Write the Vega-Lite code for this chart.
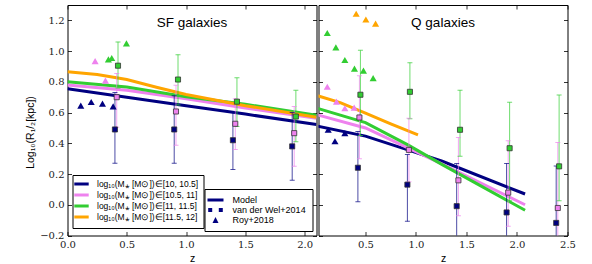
{
"$schema":"https://vega.github.io/schema/vega-lite/v6.json",
"padding":{"left":24.5,"top":4,"right":20,"bottom":0},
"spacing":0,
"config":{
 "view":{"stroke":"#000000","strokeWidth":1},
 "font":"Liberation Sans",
 "axis":{"domain":false,"grid":false,"ticks":true,"tickColor":"#000","tickSize":-4,"tickWidth":0.8,"labelFont":"DejaVu Serif","labelFontSize":10,"labelColor":"#222","labelPadding":7.5,"labelFlush":false,"labelOverlap":false,"titleFont":"Liberation Sans","titleFontSize":10.5,"titleFontWeight":"normal","titleColor":"#000"},
 "title":{"font":"Liberation Sans","fontSize":13.5,"fontWeight":"normal","color":"#000","offset":-25,"baseline":"alphabetic","anchor":"middle"},
 "legend":{"labelFont":"Liberation Sans","labelFontSize":9,"labelColor":"#000"}
},
"datasets":{"d":[
{"panel":"SF","kind":"model","src":"Model","mass":"[10, 10.5]","z":0,"v":0.755},
{"panel":"SF","kind":"model","src":"Model","mass":"[10, 10.5]","z":0.5,"v":0.70},
{"panel":"SF","kind":"model","src":"Model","mass":"[10, 10.5]","z":1.0,"v":0.645},
{"panel":"SF","kind":"model","src":"Model","mass":"[10, 10.5]","z":1.5,"v":0.59},
{"panel":"SF","kind":"model","src":"Model","mass":"[10, 10.5]","z":2.1,"v":0.522},
{"panel":"SF","kind":"model","src":"Model","mass":"[10.5, 11]","z":0,"v":0.78},
{"panel":"SF","kind":"model","src":"Model","mass":"[10.5, 11]","z":0.5,"v":0.745},
{"panel":"SF","kind":"model","src":"Model","mass":"[10.5, 11]","z":1.0,"v":0.69},
{"panel":"SF","kind":"model","src":"Model","mass":"[10.5, 11]","z":1.5,"v":0.63},
{"panel":"SF","kind":"model","src":"Model","mass":"[10.5, 11]","z":2.1,"v":0.563},
{"panel":"SF","kind":"model","src":"Model","mass":"[11, 11.5]","z":0,"v":0.80},
{"panel":"SF","kind":"model","src":"Model","mass":"[11, 11.5]","z":0.5,"v":0.766},
{"panel":"SF","kind":"model","src":"Model","mass":"[11, 11.5]","z":1.0,"v":0.703},
{"panel":"SF","kind":"model","src":"Model","mass":"[11, 11.5]","z":1.5,"v":0.654},
{"panel":"SF","kind":"model","src":"Model","mass":"[11, 11.5]","z":2.1,"v":0.583},
{"panel":"SF","kind":"model","src":"Model","mass":"[11.5, 12]","z":0,"v":0.865},
{"panel":"SF","kind":"model","src":"Model","mass":"[11.5, 12]","z":0.25,"v":0.847},
{"panel":"SF","kind":"model","src":"Model","mass":"[11.5, 12]","z":0.5,"v":0.815},
{"panel":"SF","kind":"model","src":"Model","mass":"[11.5, 12]","z":0.75,"v":0.765},
{"panel":"SF","kind":"model","src":"Model","mass":"[11.5, 12]","z":1.0,"v":0.718},
{"panel":"SF","kind":"model","src":"Model","mass":"[11.5, 12]","z":1.5,"v":0.645},
{"panel":"SF","kind":"model","src":"Model","mass":"[11.5, 12]","z":2.1,"v":0.57},
{"panel":"Q","kind":"model","src":"Model","mass":"[10, 10.5]","z":0,"v":0.515},
{"panel":"Q","kind":"model","src":"Model","mass":"[10, 10.5]","z":0.5,"v":0.447},
{"panel":"Q","kind":"model","src":"Model","mass":"[10, 10.5]","z":0.92,"v":0.357},
{"panel":"Q","kind":"model","src":"Model","mass":"[10, 10.5]","z":1.26,"v":0.283},
{"panel":"Q","kind":"model","src":"Model","mass":"[10, 10.5]","z":2.08,"v":0.07},
{"panel":"Q","kind":"model","src":"Model","mass":"[10.5, 11]","z":0,"v":0.59},
{"panel":"Q","kind":"model","src":"Model","mass":"[10.5, 11]","z":0.5,"v":0.50},
{"panel":"Q","kind":"model","src":"Model","mass":"[10.5, 11]","z":0.92,"v":0.37},
{"panel":"Q","kind":"model","src":"Model","mass":"[10.5, 11]","z":1.26,"v":0.265},
{"panel":"Q","kind":"model","src":"Model","mass":"[10.5, 11]","z":2.08,"v":0.0},
{"panel":"Q","kind":"model","src":"Model","mass":"[11, 11.5]","z":0,"v":0.632},
{"panel":"Q","kind":"model","src":"Model","mass":"[11, 11.5]","z":0.5,"v":0.535},
{"panel":"Q","kind":"model","src":"Model","mass":"[11, 11.5]","z":0.92,"v":0.39},
{"panel":"Q","kind":"model","src":"Model","mass":"[11, 11.5]","z":1.26,"v":0.261},
{"panel":"Q","kind":"model","src":"Model","mass":"[11, 11.5]","z":2.08,"v":-0.036},
{"panel":"Q","kind":"model","src":"Model","mass":"[11.5, 12]","z":0,"v":0.715},
{"panel":"Q","kind":"model","src":"Model","mass":"[11.5, 12]","z":0.25,"v":0.665},
{"panel":"Q","kind":"model","src":"Model","mass":"[11.5, 12]","z":0.5,"v":0.597},
{"panel":"Q","kind":"model","src":"Model","mass":"[11.5, 12]","z":0.75,"v":0.527},
{"panel":"Q","kind":"model","src":"Model","mass":"[11.5, 12]","z":1.02,"v":0.455},
{"panel":"SF","kind":"vdw","src":"van der Wel+2014","mass":"[10, 10.5]","z":0.40,"v":0.49,"lo":0.27,"hi":0.73},
{"panel":"SF","kind":"vdw","src":"van der Wel+2014","mass":"[10, 10.5]","z":0.90,"v":0.49,"lo":0.27,"hi":0.71},
{"panel":"SF","kind":"vdw","src":"van der Wel+2014","mass":"[10, 10.5]","z":1.395,"v":0.42,"lo":0.23,"hi":0.60},
{"panel":"SF","kind":"vdw","src":"van der Wel+2014","mass":"[10, 10.5]","z":1.895,"v":0.38,"lo":0.16,"hi":0.60},
{"panel":"SF","kind":"vdw","src":"van der Wel+2014","mass":"[10.5, 11]","z":0.415,"v":0.70,"lo":0.505,"hi":0.855},
{"panel":"SF","kind":"vdw","src":"van der Wel+2014","mass":"[10.5, 11]","z":0.915,"v":0.607,"lo":0.387,"hi":0.778},
{"panel":"SF","kind":"vdw","src":"van der Wel+2014","mass":"[10.5, 11]","z":1.415,"v":0.527,"lo":0.36,"hi":0.69},
{"panel":"SF","kind":"vdw","src":"van der Wel+2014","mass":"[10.5, 11]","z":1.912,"v":0.466,"lo":0.25,"hi":0.64},
{"panel":"SF","kind":"vdw","src":"van der Wel+2014","mass":"[11, 11.5]","z":0.426,"v":0.905,"lo":0.76,"hi":1.06},
{"panel":"SF","kind":"vdw","src":"van der Wel+2014","mass":"[11, 11.5]","z":0.932,"v":0.815,"lo":0.65,"hi":0.977},
{"panel":"SF","kind":"vdw","src":"van der Wel+2014","mass":"[11, 11.5]","z":1.429,"v":0.671,"lo":0.51,"hi":0.826},
{"panel":"SF","kind":"vdw","src":"van der Wel+2014","mass":"[11, 11.5]","z":1.926,"v":0.574,"lo":0.41,"hi":0.745},
{"panel":"Q","kind":"vdw","src":"van der Wel+2014","mass":"[10, 10.5]","z":0.425,"v":0.241,"lo":0.02,"hi":0.477},
{"panel":"Q","kind":"vdw","src":"van der Wel+2014","mass":"[10, 10.5]","z":0.915,"v":0.131,"lo":-0.108,"hi":0.327},
{"panel":"Q","kind":"vdw","src":"van der Wel+2014","mass":"[10, 10.5]","z":1.403,"v":-0.009,"lo":-0.3,"hi":0.268},
{"panel":"Q","kind":"vdw","src":"van der Wel+2014","mass":"[10, 10.5]","z":1.897,"v":-0.05,"lo":-0.3,"hi":0.269},
{"panel":"Q","kind":"vdw","src":"van der Wel+2014","mass":"[10, 10.5]","z":2.388,"v":-0.118,"lo":-0.3,"hi":0.252},
{"panel":"Q","kind":"vdw","src":"van der Wel+2014","mass":"[10.5, 11]","z":0.44,"v":0.568,"lo":0.30,"hi":0.839},
{"panel":"Q","kind":"vdw","src":"van der Wel+2014","mass":"[10.5, 11]","z":0.93,"v":0.357,"lo":0.15,"hi":0.563},
{"panel":"Q","kind":"vdw","src":"van der Wel+2014","mass":"[10.5, 11]","z":1.42,"v":0.159,"lo":-0.071,"hi":0.437},
{"panel":"Q","kind":"vdw","src":"van der Wel+2014","mass":"[10.5, 11]","z":1.913,"v":0.079,"lo":-0.14,"hi":0.417},
{"panel":"Q","kind":"vdw","src":"van der Wel+2014","mass":"[10.5, 11]","z":2.404,"v":-0.021,"lo":-0.3,"hi":0.406},
{"panel":"Q","kind":"vdw","src":"van der Wel+2014","mass":"[11, 11.5]","z":0.45,"v":0.716,"lo":0.45,"hi":1.005},
{"panel":"Q","kind":"vdw","src":"van der Wel+2014","mass":"[11, 11.5]","z":0.94,"v":0.735,"lo":0.56,"hi":0.925},
{"panel":"Q","kind":"vdw","src":"van der Wel+2014","mass":"[11, 11.5]","z":1.436,"v":0.488,"lo":0.316,"hi":0.746},
{"panel":"Q","kind":"vdw","src":"van der Wel+2014","mass":"[11, 11.5]","z":1.927,"v":0.368,"lo":0.026,"hi":0.667},
{"panel":"Q","kind":"vdw","src":"van der Wel+2014","mass":"[11, 11.5]","z":2.417,"v":0.25,"lo":0.026,"hi":0.714},
{"panel":"SF","kind":"roy","src":"Roy+2018","mass":"[10, 10.5]","z":0.112,"v":0.645},
{"panel":"SF","kind":"roy","src":"Roy+2018","mass":"[10, 10.5]","z":0.2,"v":0.669},
{"panel":"SF","kind":"roy","src":"Roy+2018","mass":"[10, 10.5]","z":0.295,"v":0.658},
{"panel":"SF","kind":"roy","src":"Roy+2018","mass":"[10, 10.5]","z":0.385,"v":0.64},
{"panel":"SF","kind":"roy","src":"Roy+2018","mass":"[10.5, 11]","z":0.233,"v":0.935},
{"panel":"SF","kind":"roy","src":"Roy+2018","mass":"[10.5, 11]","z":0.32,"v":0.808},
{"panel":"SF","kind":"roy","src":"Roy+2018","mass":"[11, 11.5]","z":0.345,"v":0.946},
{"panel":"SF","kind":"roy","src":"Roy+2018","mass":"[11, 11.5]","z":0.373,"v":0.955},
{"panel":"SF","kind":"roy","src":"Roy+2018","mass":"[11, 11.5]","z":0.497,"v":1.05},
{"panel":"Q","kind":"roy","src":"Roy+2018","mass":"[10, 10.5]","z":0.131,"v":0.488},
{"panel":"Q","kind":"roy","src":"Roy+2018","mass":"[10, 10.5]","z":0.198,"v":0.413},
{"panel":"Q","kind":"roy","src":"Roy+2018","mass":"[10, 10.5]","z":0.296,"v":0.466},
{"panel":"Q","kind":"roy","src":"Roy+2018","mass":"[10.5, 11]","z":0.122,"v":0.768},
{"panel":"Q","kind":"roy","src":"Roy+2018","mass":"[10.5, 11]","z":0.213,"v":0.671},
{"panel":"Q","kind":"roy","src":"Roy+2018","mass":"[10.5, 11]","z":0.296,"v":0.628},
{"panel":"Q","kind":"roy","src":"Roy+2018","mass":"[10.5, 11]","z":0.388,"v":0.632},
{"panel":"Q","kind":"roy","src":"Roy+2018","mass":"[11, 11.5]","z":0.122,"v":1.118},
{"panel":"Q","kind":"roy","src":"Roy+2018","mass":"[11, 11.5]","z":0.207,"v":1.024},
{"panel":"Q","kind":"roy","src":"Roy+2018","mass":"[11, 11.5]","z":0.296,"v":0.942},
{"panel":"Q","kind":"roy","src":"Roy+2018","mass":"[11, 11.5]","z":0.391,"v":0.886},
{"panel":"Q","kind":"roy","src":"Roy+2018","mass":"[11, 11.5]","z":0.48,"v":0.873},
{"panel":"Q","kind":"roy","src":"Roy+2018","mass":"[11, 11.5]","z":0.576,"v":0.824},
{"panel":"Q","kind":"roy","src":"Roy+2018","mass":"[11.5, 12]","z":0.408,"v":1.243},
{"panel":"Q","kind":"roy","src":"Roy+2018","mass":"[11.5, 12]","z":0.504,"v":1.206},
{"panel":"Q","kind":"roy","src":"Roy+2018","mass":"[11.5, 12]","z":0.6,"v":1.179}
]},
"hconcat":[
{
 "title":"SF galaxies",
 "width":249,"height":230.5,
 "data":{"name":"d"},
 "transform":[{"filter":"datum.panel==='SF'"}],
 "layer":[
  {"transform":[{"filter":"datum.kind==='model'"}],
   "mark":{"type":"line","clip":true,"strokeWidth":3},
   "encoding":{
    "x":{"field":"z","type":"quantitative","scale":{"domain":[0,2.1],"nice":false,"zero":false},"axis":{"orient":"bottom","values":[0,0.5,1,1.5,2],"format":".1f","title":"z"}},
    "y":{"field":"v","type":"quantitative","scale":{"domain":[-0.2,1.3],"nice":false,"zero":false},"axis":{"orient":"left","values":[-0.2,0,0.2,0.4,0.6,0.8,1.0,1.2],"format":".1f","title":"Log₁₀(R₁/₂[kpc])","titleY":127}},
    "color":{"field":"mass","type":"nominal","scale":{"domain":["[10, 10.5]","[10.5, 11]","[11, 11.5]","[11.5, 12]"],"range":["#000080","#ee82ee","#32cd32","#ffa500"]},
      "legend":{"orient":"none","legendX":5,"legendY":170,"title":null,"symbolType":"M-2.4,0H2.4","symbolSize":36,"symbolStrokeWidth":3,"labelExpr":"'log₁₀(M⁎ [M⊙])∈' + datum.label","labelFontSize":8.5,"strokeColor":"#000","fillColor":"#fff","padding":4.5,"rowPadding":-2,"labelOffset":11,"cornerRadius":0}}
   }},
  {"transform":[{"filter":"datum.kind==='vdw'"}],
   "mark":{"type":"rule","clip":true,"strokeWidth":1,"opacity":0.7},
   "encoding":{"x":{"field":"z","type":"quantitative","axis":null},"y":{"field":"lo","type":"quantitative","axis":null},"y2":{"field":"hi"},"color":{"field":"mass","type":"nominal","legend":null}}},
  {"transform":[{"filter":"datum.kind==='vdw'"}],
   "mark":{"type":"tick","orient":"horizontal","clip":true,"size":5,"thickness":1,"opacity":0.7},
   "encoding":{"x":{"field":"z","type":"quantitative","axis":null},"y":{"field":"lo","type":"quantitative","axis":null},"color":{"field":"mass","type":"nominal","legend":null}}},
  {"transform":[{"filter":"datum.kind==='vdw'"}],
   "mark":{"type":"tick","orient":"horizontal","clip":true,"size":5,"thickness":1,"opacity":0.7},
   "encoding":{"x":{"field":"z","type":"quantitative","axis":null},"y":{"field":"hi","type":"quantitative","axis":null},"color":{"field":"mass","type":"nominal","legend":null}}},
  {"transform":[{"filter":"datum.kind==='vdw'"}],
   "mark":{"type":"point","shape":"square","filled":true,"size":26,"stroke":"#333","strokeWidth":0.8,"opacity":1},
   "encoding":{"x":{"field":"z","type":"quantitative","axis":{"orient":"top","labels":false,"title":null,"values":[0,0.5,1,1.5,2]}},"y":{"field":"v","type":"quantitative","axis":{"orient":"right","labels":false,"title":null,"values":[-0.2,0,0.2,0.4,0.6,0.8,1.0,1.2]}},"color":{"field":"mass","type":"nominal","legend":null}}},
  {"transform":[{"filter":"datum.kind==='roy'"}],
   "mark":{"type":"point","shape":"triangle-up","filled":true,"size":50,"opacity":1},
   "encoding":{"x":{"field":"z","type":"quantitative","axis":null},"y":{"field":"v","type":"quantitative","axis":null},"color":{"field":"mass","type":"nominal","legend":null}}},
  {"transform":[{"filter":"datum.kind==='none'"}],
   "mark":{"type":"point","filled":true,"color":"#000080","opacity":1},
   "encoding":{"x":{"field":"z","type":"quantitative","axis":null},"y":{"field":"v","type":"quantitative","axis":null},
    "shape":{"field":"src","type":"nominal","scale":{"domain":["Model","van der Wel+2014","Roy+2018"],"range":["M-1.6,-0.3H1.6V0.3H-1.6Z","M-1.46,-0.4H-0.66V0.4H-1.46Z M0.66,-0.4H1.46V0.4H0.66Z","M0,-0.6L0.6,0.6L-0.6,0.6Z"]},
     "legend":{"orient":"none","legendX":137,"legendY":184,"title":null,"symbolSize":100,"symbolFillColor":"#000080","symbolStrokeWidth":0,"symbolOpacity":1,"labelFontSize":9,"strokeColor":"#000","fillColor":"#fff","padding":6,"rowPadding":0,"labelOffset":12,"cornerRadius":0}}}}
 ],
 "resolve":{"axis":{"x":"independent","y":"independent"}}
},
{
 "title":"Q galaxies",
 "width":249,"height":230.5,
 "data":{"name":"d"},
 "transform":[{"filter":"datum.panel==='Q'"}],
 "layer":[
  {"transform":[{"filter":"datum.kind==='model'"}],
   "mark":{"type":"line","clip":true,"strokeWidth":3},
   "encoding":{
    "x":{"field":"z","type":"quantitative","scale":{"domain":[0.035,2.5],"nice":false,"zero":false},"axis":{"orient":"bottom","values":[0.5,1,1.5,2,2.5],"format":".1f","title":"z"}},
    "y":{"field":"v","type":"quantitative","scale":{"domain":[-0.2,1.3],"nice":false,"zero":false},"axis":{"orient":"left","labels":false,"title":null,"values":[-0.2,0,0.2,0.4,0.6,0.8,1.0,1.2]}},
    "color":{"field":"mass","type":"nominal","scale":{"domain":["[10, 10.5]","[10.5, 11]","[11, 11.5]","[11.5, 12]"],"range":["#000080","#ee82ee","#32cd32","#ffa500"]},"legend":null}
   }},
  {"transform":[{"filter":"datum.kind==='vdw'"}],
   "mark":{"type":"rule","clip":true,"strokeWidth":1,"opacity":0.7},
   "encoding":{"x":{"field":"z","type":"quantitative","axis":null},"y":{"field":"lo","type":"quantitative","axis":null},"y2":{"field":"hi"},"color":{"field":"mass","type":"nominal","legend":null}}},
  {"transform":[{"filter":"datum.kind==='vdw'"}],
   "mark":{"type":"tick","orient":"horizontal","clip":true,"size":5,"thickness":1,"opacity":0.7},
   "encoding":{"x":{"field":"z","type":"quantitative","axis":null},"y":{"field":"lo","type":"quantitative","axis":null},"color":{"field":"mass","type":"nominal","legend":null}}},
  {"transform":[{"filter":"datum.kind==='vdw'"}],
   "mark":{"type":"tick","orient":"horizontal","clip":true,"size":5,"thickness":1,"opacity":0.7},
   "encoding":{"x":{"field":"z","type":"quantitative","axis":null},"y":{"field":"hi","type":"quantitative","axis":null},"color":{"field":"mass","type":"nominal","legend":null}}},
  {"transform":[{"filter":"datum.kind==='vdw'"}],
   "mark":{"type":"point","shape":"square","filled":true,"size":26,"stroke":"#333","strokeWidth":0.8,"opacity":1},
   "encoding":{"x":{"field":"z","type":"quantitative","axis":{"orient":"top","labels":false,"title":null,"values":[0.5,1,1.5,2,2.5]}},"y":{"field":"v","type":"quantitative","axis":{"orient":"right","labels":false,"title":null,"values":[-0.2,0,0.2,0.4,0.6,0.8,1.0,1.2]}},"color":{"field":"mass","type":"nominal","legend":null}}},
  {"transform":[{"filter":"datum.kind==='roy'"}],
   "mark":{"type":"point","shape":"triangle-up","filled":true,"size":50,"opacity":1},
   "encoding":{"x":{"field":"z","type":"quantitative","axis":null},"y":{"field":"v","type":"quantitative","axis":null},"color":{"field":"mass","type":"nominal","legend":null}}}
 ],
 "resolve":{"axis":{"x":"independent","y":"independent"}}
}
],
"resolve":{"scale":{"color":"shared","shape":"shared"}}
}
